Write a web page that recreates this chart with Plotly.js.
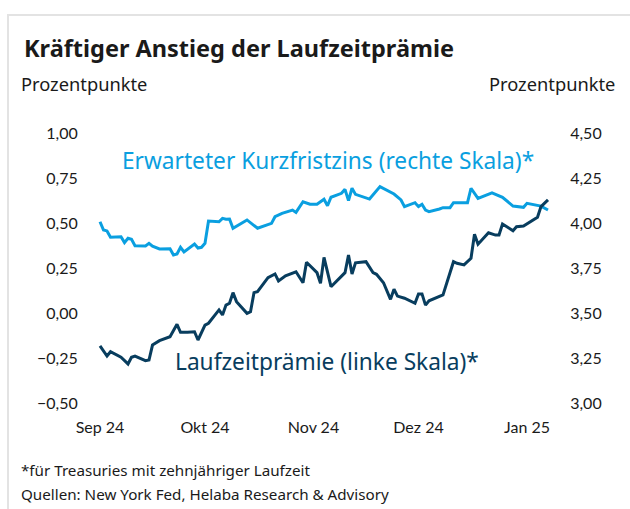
<!DOCTYPE html>
<html><head><meta charset="utf-8">
<script src="https://cdn.plot.ly/plotly-3.0.1.min.js"></script>
<style>html,body{margin:0;padding:0;background:#fff}#chart{width:630px;height:509px}</style>
</head><body><div id="chart"></div>
<script>
// Laufzeitprämie (linke Skala), Prozentpunkte
const premiumDates = ['2024-09-01','2024-09-03','2024-09-04','2024-09-07','2024-09-09','2024-09-10','2024-09-11','2024-09-14','2024-09-15','2024-09-16','2024-09-18','2024-09-21','2024-09-23','2024-09-24','2024-09-26','2024-09-28','2024-09-29','2024-10-01','2024-10-02','2024-10-05','2024-10-06','2024-10-07','2024-10-08','2024-10-09','2024-10-10','2024-10-13','2024-10-14','2024-10-15','2024-10-16','2024-10-19','2024-10-21','2024-10-22','2024-10-24','2024-10-26','2024-10-27','2024-10-29','2024-10-30','2024-11-02','2024-11-03','2024-11-04','2024-11-06','2024-11-10','2024-11-11','2024-11-12','2024-11-13','2024-11-16','2024-11-18','2024-11-19','2024-11-21','2024-11-23','2024-11-24','2024-11-25','2024-11-27','2024-11-30','2024-12-01','2024-12-02','2024-12-03','2024-12-04','2024-12-08','2024-12-11','2024-12-12','2024-12-14','2024-12-16','2024-12-17','2024-12-18','2024-12-21','2024-12-23','2024-12-24','2024-12-25','2024-12-28','2024-12-29','2024-12-31','2025-01-02','2025-01-04','2025-01-05','2025-01-06','2025-01-07'];
const premiumValues = [-0.183,-0.239,-0.215,-0.246,-0.283,-0.246,-0.239,-0.265,-0.261,-0.178,-0.154,-0.132,-0.063,-0.107,-0.107,-0.104,-0.150,-0.067,-0.057,0.017,-0.011,0.044,0.054,0.113,0.063,-0.002,0.007,0.113,0.118,0.196,0.217,0.178,0.207,0.221,0.229,0.168,0.282,0.224,0.165,0.309,0.146,0.224,0.322,0.217,0.279,0.285,0.224,0.215,0.168,0.076,0.132,0.094,0.082,0.054,0.106,0.106,0.044,0.068,0.100,0.285,0.276,0.267,0.304,0.437,0.382,0.446,0.433,0.433,0.494,0.457,0.479,0.483,0.507,0.532,0.591,0.609,0.628];

// Erwarteter Kurzfristzins (rechte Skala), Prozent
const rateDates = ['2024-09-01','2024-09-02','2024-09-03','2024-09-04','2024-09-07','2024-09-08','2024-09-09','2024-09-10','2024-09-11','2024-09-14','2024-09-15','2024-09-16','2024-09-18','2024-09-21','2024-09-22','2024-09-23','2024-09-24','2024-09-25','2024-09-28','2024-09-29','2024-09-30','2024-10-01','2024-10-02','2024-10-05','2024-10-06','2024-10-07','2024-10-08','2024-10-09','2024-10-13','2024-10-14','2024-10-16','2024-10-20','2024-10-21','2024-10-23','2024-10-26','2024-10-27','2024-10-29','2024-10-31','2024-11-02','2024-11-04','2024-11-05','2024-11-06','2024-11-09','2024-11-10','2024-11-11','2024-11-12','2024-11-13','2024-11-17','2024-11-20','2024-11-24','2024-11-26','2024-11-27','2024-11-30','2024-12-01','2024-12-02','2024-12-03','2024-12-04','2024-12-07','2024-12-08','2024-12-10','2024-12-11','2024-12-15','2024-12-16','2024-12-18','2024-12-22','2024-12-25','2024-12-28','2024-12-31','2025-01-01','2025-01-05','2025-01-07'];
const rateValues = [4.007,3.961,3.956,3.921,3.924,3.891,3.915,3.909,3.874,3.872,3.887,3.871,3.856,3.857,3.822,3.828,3.865,3.839,3.883,3.861,3.865,3.887,4.011,4.007,4.026,4.021,4.022,3.971,4.017,4.002,3.971,3.998,4.035,4.054,4.072,4.059,4.118,4.104,4.104,4.132,4.096,4.143,4.165,4.187,4.124,4.193,4.159,4.133,4.202,4.161,4.128,4.091,4.113,4.091,4.104,4.072,4.063,4.078,4.085,4.085,4.113,4.113,4.193,4.137,4.168,4.143,4.094,4.087,4.109,4.094,4.072];

const monthTicks = ['2024-09-01','2024-10-01','2024-11-01','2024-12-01','2025-01-01'];
const monthLabels = ['Sep 24','Okt 24','Nov 24','Dez 24','Jan 25'];
const leftTicks = [-0.5,-0.25,0,0.25,0.5,0.75,1.0];
const rightTicks = [3.0,3.25,3.5,3.75,4.0,4.25,4.5];

const W = 630, H = 509;
const M = {l: 90, r: 70, t: 133, b: 106};
const PW = W - M.l - M.r, PH = H - M.t - M.b;
const px = x => (x - M.l) / PW;
const py = y => (H - M.b - y) / PH;

const LIGHT = '#0a9fe0', DARK = '#083d5e', TXT = '#1a1a1a';
const textFont = 'Noto Sans, Open Sans, sans-serif';
const tickFont = {family: 'Lato, Carlito, sans-serif', size: 16, color: TXT};

const traces = [
  {x: rateDates, y: rateValues, yaxis: 'y', type: 'scatter', mode: 'lines',
   line: {color: LIGHT, width: 3}, hoverinfo: 'skip'},
  {x: premiumDates, y: premiumValues, yaxis: 'y2', type: 'scatter', mode: 'lines',
   line: {color: DARK, width: 3}, hoverinfo: 'skip'}
];

const layout = {
  width: W, height: H,
  margin: M,
  paper_bgcolor: '#fff', plot_bgcolor: '#fff',
  showlegend: false,
  separators: ',.',
  font: {family: textFont, color: TXT},
  title: {text: '<b>Kräftiger Anstieg der Laufzeitprämie</b>', xref: 'container', yref: 'container',
          x: 24 / W, xanchor: 'left', y: 1 - 49 / H, yanchor: 'middle',
          font: {family: textFont, size: 23.5, color: TXT}},
  xaxis: {type: 'date', range: ['2024-08-29 03:26', '2025-01-10 10:17'],
          tickmode: 'array', tickvals: monthTicks, ticktext: monthLabels,
          showgrid: false, zeroline: false, showline: false,
          ticks: 'outside', ticklen: 10, tickcolor: 'rgba(0,0,0,0)', tickfont: tickFont},
  yaxis: {side: 'right', range: [3.0, 4.5], tickmode: 'array', tickvals: rightTicks, tickformat: '.2f',
          showgrid: false, zeroline: false, showline: false,
          ticks: 'outside', ticklen: 6, tickcolor: 'rgba(0,0,0,0)', tickfont: tickFont},
  yaxis2: {side: 'left', overlaying: 'y', range: [-0.5, 1.0], tickmode: 'array', tickvals: leftTicks, tickformat: '.2f',
          showgrid: false, zeroline: false, showline: false,
          ticks: 'outside', ticklen: 8, tickcolor: 'rgba(0,0,0,0)', tickfont: tickFont},
  annotations: [
    {text: 'Prozentpunkte', xref: 'paper', yref: 'paper', x: px(19), y: py(83), xanchor: 'left', yanchor: 'middle',
     showarrow: false, font: {family: textFont, size: 18.3, color: TXT}},
    {text: 'Prozentpunkte', xref: 'paper', yref: 'paper', x: px(617), y: py(83), xanchor: 'right', yanchor: 'middle',
     showarrow: false, font: {family: textFont, size: 18.3, color: TXT}},
    {text: 'Erwarteter Kurzfristzins (rechte Skala)*', xref: 'paper', yref: 'paper', x: px(328), y: py(160),
     xanchor: 'center', yanchor: 'middle', showarrow: false, font: {family: textFont, size: 22.7, color: LIGHT}},
    {text: 'Laufzeitprämie (linke Skala)*', xref: 'paper', yref: 'paper', x: px(327), y: py(361),
     xanchor: 'center', yanchor: 'middle', showarrow: false, font: {family: textFont, size: 22.7, color: DARK}},
    {text: '*für Treasuries mit zehnjähriger Laufzeit', xref: 'paper', yref: 'paper', x: px(19), y: py(470),
     xanchor: 'left', yanchor: 'middle', showarrow: false, font: {family: textFont, size: 15.2, color: TXT}},
    {text: 'Quellen: New York Fed, Helaba Research & Advisory', xref: 'paper', yref: 'paper', x: px(19), y: py(494),
     xanchor: 'left', yanchor: 'middle', showarrow: false, font: {family: textFont, size: 15.2, color: TXT}}
  ],
  shapes: [
    {type: 'line', xref: 'paper', yref: 'paper', x0: px(8), x1: px(8), y0: py(H + 5), y1: py(14),
     line: {color: '#e3e3e3', width: 2}},
    {type: 'line', xref: 'paper', yref: 'paper', x0: px(7), x1: px(W + 5), y0: py(15), y1: py(15),
     line: {color: '#e3e3e3', width: 2}}
  ]
};

Plotly.newPlot('chart', traces, layout, {staticPlot: true, displayModeBar: false});
</script></body></html>
